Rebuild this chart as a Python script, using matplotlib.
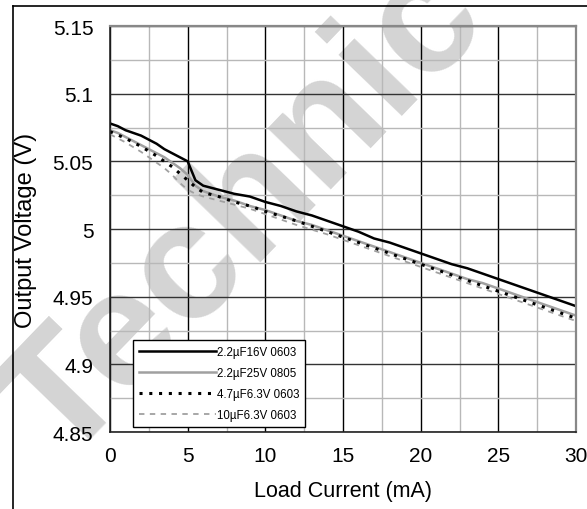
import matplotlib
matplotlib.use("Agg")
import matplotlib.pyplot as plt
from matplotlib.lines import Line2D
import numpy as np

plt.rcParams['font.family'] = ['Liberation Sans', 'DejaVu Sans']

# ---- data ----
x_black = [0, 0.5, 1, 1.5, 2, 2.5, 3, 3.5, 4, 4.5, 5, 5.5, 6, 7, 8, 9, 10, 11, 12, 13, 14, 15,
           16, 17, 18, 19, 20, 21, 22, 23, 24, 25, 26, 27, 28, 29, 30]
y_black = [5.078, 5.076, 5.073, 5.071, 5.069, 5.066, 5.063, 5.059, 5.056, 5.053, 5.050, 5.036,
           5.032, 5.029, 5.026, 5.024, 5.020, 5.017, 5.013, 5.010, 5.006, 5.002,
           4.998, 4.993, 4.990, 4.986, 4.982, 4.978, 4.974, 4.971, 4.967, 4.963,
           4.959, 4.955, 4.951, 4.947, 4.943]

x_gray = [0, 0.5, 1, 1.5, 2, 2.5, 3, 3.5, 4, 4.5, 5, 5.5, 6, 7, 8, 9, 10, 11, 12, 13, 14, 15,
          16, 17, 18, 19, 20, 21, 22, 23, 24, 25, 26, 27, 28, 29, 30]
y_gray = [5.073, 5.071, 5.068, 5.065, 5.062, 5.059, 5.056, 5.053, 5.049, 5.045, 5.040, 5.032,
          5.028, 5.024, 5.021, 5.017, 5.014, 5.010, 5.006, 5.003, 4.999, 4.995,
          4.991, 4.987, 4.983, 4.979, 4.975, 4.971, 4.967, 4.963, 4.960, 4.956,
          4.952, 4.948, 4.944, 4.940, 4.936]

x_dot = [0, 1, 2, 3, 4, 4.5, 5, 5.5, 6, 7, 8, 9, 10, 12, 14, 15, 16, 18, 20, 22, 24, 25, 26, 28, 30]
y_dot = [5.072, 5.067, 5.061, 5.054, 5.046, 5.041, 5.036, 5.031, 5.027, 5.024, 5.020, 5.017,
         5.013, 5.006, 4.998, 4.994, 4.990, 4.982, 4.974, 4.966, 4.958, 4.954, 4.950, 4.942, 4.934]

x_dash = [0, 1, 2, 2.5, 3, 3.5, 4, 4.5, 5, 5.5, 6, 7, 8, 9, 10, 12, 14, 15, 16, 18, 20, 22, 24, 25, 26, 28, 30]
y_dash = [5.070, 5.064, 5.057, 5.053, 5.049, 5.045, 5.040, 5.034, 5.029, 5.026, 5.024, 5.021,
          5.018, 5.015, 5.011, 5.003, 4.996, 4.992, 4.988, 4.980, 4.972, 4.964, 4.956, 4.952,
          4.948, 4.940, 4.932]

labels = ["2.2\u00b5F16V 0603", "2.2\u00b5F25V 0805", "4.7\u00b5F6.3V 0603", "10\u00b5F6.3V 0603"]
x_ticks = [0, 5, 10, 15, 20, 25, 30]
y_ticks = [4.85, 4.9, 4.95, 5.0, 5.05, 5.1, 5.15]
y_tick_labels = ["4.85", "4.9", "4.95", "5", "5.05", "5.1", "5.15"]

W, H = 587, 510
fig = plt.figure(figsize=(W / 100, H / 100), dpi=100)

# watermark
fig.text(245 / W, 1 - 215 / H, "Technic", rotation=46, fontsize=120, fontweight='bold',
         color='#d4d4d4', ha='center', va='center', zorder=-1, rotation_mode='anchor')

# outer frame lines
fig.add_artist(Line2D([12.5 / W, 12.5 / W], [0, 1 - 7 / H], color='black', lw=1.2,
                      transform=fig.transFigure))
fig.add_artist(Line2D([12.5 / W, 1], [1 - 7 / H, 1 - 7 / H], color='black', lw=1.2,
                      transform=fig.transFigure))

ax = fig.add_axes([110 / W, 1 - 433 / H, 466 / W, 406 / H])
ax.set_facecolor('none')
ax.set_xlim(0, 30)
ax.set_ylim(4.85, 5.15)

ax.set_xticks(x_ticks)
ax.set_xticklabels([str(t) for t in x_ticks])
ax.set_yticks(y_ticks)
ax.set_yticklabels(y_tick_labels)
ax.set_xticks(np.arange(2.5, 30, 5), minor=True)
ax.set_yticks(np.arange(4.875, 5.15, 0.05), minor=True)
ax.tick_params(which='both', length=0, labelsize=15)
ax.tick_params(axis='x', pad=10)
ax.tick_params(axis='y', pad=12)
ax.grid(which='major', axis='x', color='black', lw=1.0)
ax.grid(which='major', axis='y', color='#333333', lw=1.0)
ax.grid(which='minor', color='#b8b8b8', lw=1.0)
ax.set_axisbelow(True)

for s in ['left', 'bottom']:
    ax.spines[s].set_color('#222222')
    ax.spines[s].set_linewidth(1.2)
for s in ['top', 'right']:
    ax.spines[s].set_color('#888888')
    ax.spines[s].set_linewidth(1.6)

ax.plot(x_black, y_black, color='black', lw=1.8, label=labels[0])
ax.plot(x_gray, y_gray, color='#a0a0a0', lw=1.8, label=labels[1])
ax.plot(x_dot, y_dot, color='black', lw=2.2, linestyle=(0, (1, 2.2)), dash_capstyle='butt',
        label=labels[2])
ax.plot(x_dash, y_dash, color='#a0a0a0', lw=1.3, linestyle=(0, (3, 3)), label=labels[3])

ax.set_xlabel("Load Current (mA)", fontsize=15.5, labelpad=11)
ax.set_ylabel("Output Voltage (V)", fontsize=17, labelpad=11)

leg = ax.legend(loc='lower left', bbox_to_anchor=(23 / 466, 5 / 406), fontsize=8.3,
                handlelength=6.7, handletextpad=0.05, labelspacing=0.8, borderpad=0.5,
                borderaxespad=0, fancybox=False, framealpha=1, edgecolor='black')
leg.get_frame().set_linewidth(1.0)

fig.savefig("out.png", dpi=100)
